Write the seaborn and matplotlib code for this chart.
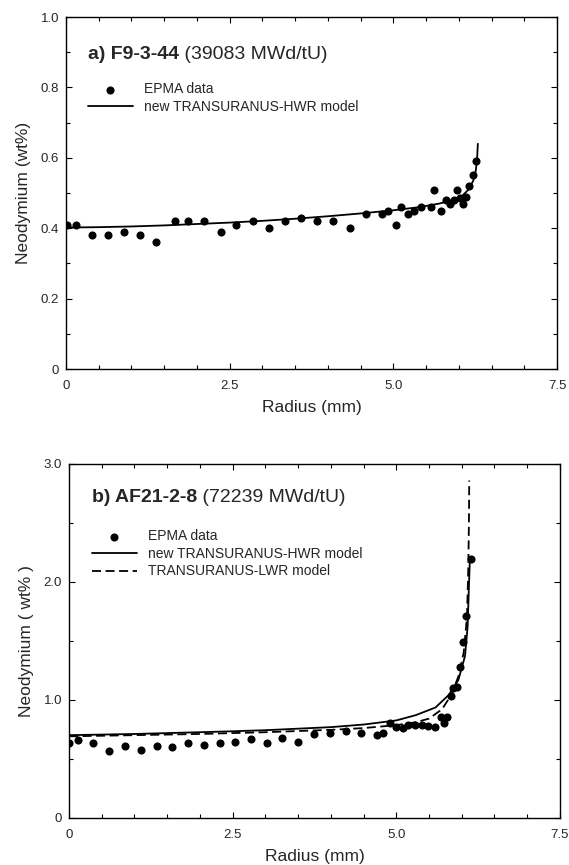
import numpy as np
import pandas as pd
import matplotlib
matplotlib.use("Agg")
import matplotlib.pyplot as plt
import seaborn as sns
from matplotlib.ticker import MultipleLocator

# ---- panel a) F9-3-44 ----
a_epma_r = [0.01, 0.15, 0.39, 0.64, 0.89, 1.13, 1.38, 1.66, 1.86, 2.11, 2.36, 2.60,
            2.85, 3.10, 3.35, 3.59, 3.83, 4.08, 4.33, 4.58, 4.82, 4.92, 5.04, 5.11,
            5.23, 5.32, 5.42, 5.57, 5.62, 5.72, 5.81, 5.86, 5.92, 5.97, 6.02, 6.07,
            6.11, 6.16, 6.21, 6.26]
a_epma_nd = [0.41, 0.41, 0.38, 0.38, 0.39, 0.38, 0.36, 0.42, 0.42, 0.42, 0.39, 0.41,
             0.42, 0.40, 0.42, 0.43, 0.42, 0.42, 0.40, 0.44, 0.44, 0.45, 0.41, 0.46,
             0.44, 0.45, 0.46, 0.46, 0.51, 0.45, 0.48, 0.47, 0.48, 0.51, 0.485, 0.47,
             0.49, 0.52, 0.55, 0.59]
a_hwr_r = [0.0, 0.5, 1.0, 1.5, 2.0, 2.5, 3.0, 3.5, 4.0, 4.5, 5.0, 5.4, 5.7, 5.9,
           6.05, 6.15, 6.22, 6.26, 6.28, 6.29]
a_hwr_nd = [0.402, 0.403, 0.405, 0.408, 0.412, 0.416, 0.421, 0.427, 0.434, 0.442,
            0.451, 0.460, 0.470, 0.480, 0.492, 0.510, 0.535, 0.565, 0.600, 0.640]

# ---- panel b) AF21-2-8 ----
b_epma_r = [0.005, 0.13, 0.37, 0.61, 0.86, 1.10, 1.34, 1.58, 1.82, 2.06, 2.30, 2.54,
            2.78, 3.02, 3.26, 3.50, 3.74, 3.99, 4.23, 4.46, 4.71, 4.80, 4.90, 4.99,
            5.10, 5.18, 5.28, 5.39, 5.49, 5.59, 5.69, 5.73, 5.78, 5.83, 5.87, 5.93,
            5.97, 6.02, 6.07, 6.14]
b_epma_nd = [0.63, 0.66, 0.63, 0.566, 0.605, 0.574, 0.605, 0.60, 0.636, 0.62, 0.63,
             0.64, 0.67, 0.63, 0.68, 0.64, 0.71, 0.716, 0.735, 0.716, 0.70, 0.716,
             0.806, 0.77, 0.76, 0.79, 0.786, 0.786, 0.78, 0.77, 0.857, 0.806, 0.857,
             1.03, 1.10, 1.11, 1.28, 1.49, 1.71, 2.19]
b_hwr_r = [0.0, 1.0, 2.0, 2.5, 3.0, 4.0, 4.5, 5.0, 5.3, 5.6, 5.8, 5.95, 6.05, 6.09,
           6.11, 6.125]
b_hwr_nd = [0.70, 0.71, 0.725, 0.733, 0.742, 0.768, 0.79, 0.825, 0.87, 0.935, 1.04,
            1.17, 1.37, 1.62, 1.96, 2.20]
b_lwr_r = [0.0, 1.0, 2.0, 3.0, 4.0, 4.5, 5.0, 5.3, 5.5, 5.7, 5.85, 5.95, 6.03, 6.08,
           6.10, 6.11, 6.115]
b_lwr_nd = [0.69, 0.70, 0.71, 0.725, 0.745, 0.76, 0.785, 0.81, 0.84, 0.92, 1.05,
            1.20, 1.40, 1.70, 2.10, 2.50, 2.86]

x_ticks = [0, 2.5, 5.0, 7.5]
x_ticklabels = ["0", "2.5", "5.0", "7.5"]
a_y_ticks = [0, 0.2, 0.4, 0.6, 0.8, 1.0]
a_y_ticklabels = ["0", "0.2", "0.4", "0.6", "0.8", "1.0"]
b_y_ticks = [0, 1.0, 2.0, 3.0]
b_y_ticklabels = ["0", "1.0", "2.0", "3.0"]

sns.set_style("ticks")
plt.rcParams['font.family'] = ['Liberation Sans', 'DejaVu Sans']

fig = plt.figure(figsize=(5.69, 8.65), dpi=100)
ax_a = fig.add_axes([0.116, 0.5734, 0.863, 0.4069])
ax_b = fig.add_axes([0.1213, 0.0547, 0.8627, 0.4089])


def style_axes(ax, ymax, yticks, yticklabels, yminor, ylabel):
    ax.set_xlim(0, 7.5)
    ax.set_ylim(0, ymax)
    ax.set_xticks(x_ticks, x_ticklabels)
    ax.set_yticks(yticks, yticklabels)
    ax.xaxis.set_minor_locator(MultipleLocator(0.5))
    ax.yaxis.set_minor_locator(MultipleLocator(yminor))
    ax.tick_params(which='both', direction='in', top=True, right=True,
                   labelsize=9.5, width=0.8, color='black')
    ax.tick_params(which='major', length=4)
    ax.tick_params(axis='x', which='major', pad=8)
    ax.tick_params(axis='y', which='major', pad=5)
    ax.tick_params(which='minor', length=3)
    for s in ax.spines.values():
        s.set_linewidth(1.0)
        s.set_color('black')
    ax.set_xlabel("Radius (mm)", fontsize=12.5, labelpad=6)
    ax.set_ylabel(ylabel, fontsize=12.5, labelpad=7)


def panel_title(ax, bold, rest, x, y):
    t1 = ax.text(x, y, bold, transform=ax.transAxes, fontsize=14,
                 fontweight='bold', va='center', ha='left')
    ax.annotate(rest, xy=(1, 0), xycoords=t1, va='bottom', ha='left',
                fontsize=14)


leg_kw = dict(loc='upper left', frameon=False, fontsize=10, borderpad=0,
              borderaxespad=0, handlelength=3.2, handletextpad=0.8,
              labelspacing=0.25)

# panel a
sns.scatterplot(x=a_epma_r, y=a_epma_nd, ax=ax_a, color='black', s=34,
                edgecolor='black', linewidth=0, label="EPMA data", zorder=3)
sns.lineplot(x=a_hwr_r, y=a_hwr_nd, ax=ax_a, color='black', lw=1.3,
             sort=False, estimator=None, label="new TRANSURANUS-HWR model")
style_axes(ax_a, 1.0, a_y_ticks, a_y_ticklabels, 0.1, "Neodymium (wt%)")
panel_title(ax_a, "a) F9-3-44", " (39083 MWd/tU)", 0.045, 0.893)
ax_a.legend(bbox_to_anchor=(0.045, 0.815), **leg_kw)

# panel b
sns.scatterplot(x=b_epma_r, y=b_epma_nd, ax=ax_b, color='black', s=34,
                edgecolor='black', linewidth=0, label="EPMA data", zorder=3)
sns.lineplot(x=b_hwr_r, y=b_hwr_nd, ax=ax_b, color='black', lw=1.3,
             sort=False, estimator=None, label="new TRANSURANUS-HWR model")
sns.lineplot(x=b_lwr_r, y=b_lwr_nd, ax=ax_b, color='black', lw=1.3,
             sort=False, estimator=None, label="TRANSURANUS-LWR model")
ax_b.lines[-1].set_dashes((5, 2.5))
style_axes(ax_b, 3.0, b_y_ticks, b_y_ticklabels, 0.5, "Neodymium ( wt% )")
panel_title(ax_b, "b) AF21-2-8", " (72239 MWd/tU)", 0.047, 0.904)
ax_b.legend(bbox_to_anchor=(0.047, 0.815), **leg_kw)

fig.savefig("out.png", dpi=100)
